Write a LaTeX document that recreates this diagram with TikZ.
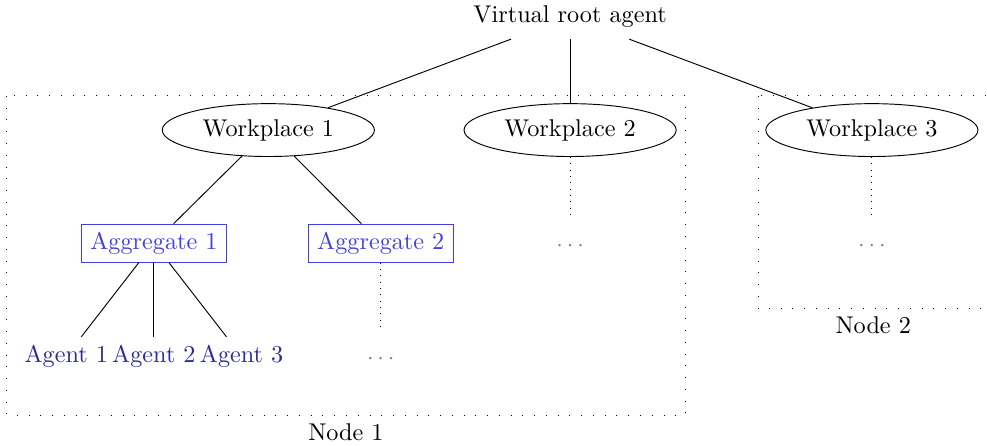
\documentclass[tikz,border=0pt]{standalone}
\usetikzlibrary{shapes.geometric}
\definecolor{aggblue}{RGB}{64,64,225}
\definecolor{agentblue}{RGB}{42,42,158}
\tikzset{
    rootnode/.style={inner xsep=3.33pt,inner ysep=4.6pt},
    workplace/.style={ellipse,draw,minimum width=3.17cm,minimum height=0.79cm},
    aggregate/.style={rectangle,draw=aggblue,text=aggblue,minimum width=2.17cm},
    agentnode/.style={text=agentblue},
    morenode/.style={gray,minimum height=0.92cm},
    treeedge/.style={black},
    moreedge/.style={black,dash pattern=on 0.4pt off 2.3pt},
    nodeframe/.style={black,dash pattern=on 0.4pt off 4.6pt}
}
\def\levelgap{1.69}

\begin{document}
\begin{tikzpicture}[font=\fontsize{10.3pt}{12.4pt}\selectfont]

    \useasboundingbox (-8.52,0.254) rectangle (6.23,-6.41);

    % virtual root
    \node[rootnode] (root) at (0,0) {Virtual root agent};

    % workplaces (level 1)
    \foreach \i/\x in {1/-4.51,2/0,3/4.51} {
        \node[workplace] (wp\i) at (\x,-\levelgap) {Workplace \i};
        \draw[treeedge] (root) -- (wp\i);
    }

    % aggregates below workplace 1
    \foreach \i/\x in {1/-6.22,2/-2.83} {
        \node[aggregate] (agg\i) at (\x,-2*\levelgap) {Aggregate \i};
        \draw[treeedge] (wp1) -- (agg\i);
    }

    % agents of aggregate 1
    \foreach \i/\x in {1/-7.53,2/-6.22,3/-4.91} {
        \node[agentnode] (agent\i) at (\x,-3*\levelgap) {Agent \i};
        \draw[treeedge] (agg1) -- (agent\i);
    }

    % elided subtrees
    \node[morenode] (morewp2) at (0,-2*\levelgap-0.05) {$\cdots$};
    \node[morenode] (morewp3) at (4.51,-2*\levelgap-0.05) {$\cdots$};
    \node[morenode] (moreagg2) at (-2.83,-3*\levelgap-0.05) {$\cdots$};
    \draw[moreedge] (wp2) -- (morewp2);
    \draw[moreedge] (wp3) -- (morewp3);
    \draw[moreedge] (agg2) -- (moreagg2);

    % machine frames
    \draw[nodeframe] (-8.42,-1.18) rectangle (1.72,-5.95);
    \node[anchor=north] (node1) at (-3.35,-5.95) {Node 1};
    \draw[nodeframe] (2.81,-1.18) rectangle (6.25,-4.36);
    \node[anchor=north] (node2) at (4.53,-4.36) {Node 2};

\end{tikzpicture}
\end{document}
